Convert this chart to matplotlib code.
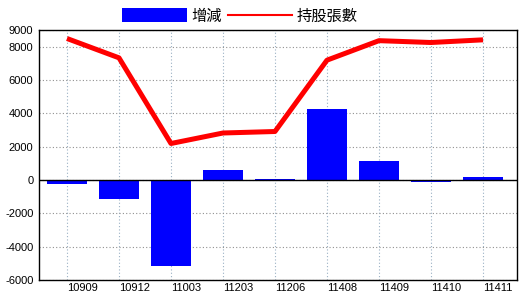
import matplotlib
matplotlib.use('Agg')
import matplotlib.pyplot as plt
from matplotlib.patches import Patch
from matplotlib.lines import Line2D

plt.rcParams['font.family'] = ['Liberation Sans', 'Noto Sans CJK TC']

months = ['10909', '10912', '11003', '11203', '11206', '11408', '11409', '11410', '11411']
change = [-240, -1160, -5140, 630, 90, 4280, 1170, -110, 160]
holdings = [8490, 7330, 2190, 2820, 2910, 7190, 8360, 8250, 8410]
yticks = [-6000, -4000, -2000, 0, 2000, 4000, 6000, 8000, 9000]

fig = plt.figure(figsize=(5.2, 3.0), dpi=100)
ax = fig.add_axes([39/520, 20/300, 478/520, 250/300])

x = list(range(len(months)))
ax.bar(x, change, width=0.77, color='#0000ff', zorder=2)
ax.plot(x, holdings, color='#ff0000', linewidth=3.6, zorder=3, solid_capstyle='butt')
ax.axhline(0, color='black', linewidth=1, zorder=2.5)

ax.set_xlim(-0.538, 8.654)
ax.set_ylim(-6000, 9000)
ax.set_yticks(yticks)
ax.set_yticklabels([str(v) for v in yticks])
ax.set_xticks(x)
ax.set_xticklabels(months, ha='left')

ax.tick_params(axis='both', length=0, labelsize=8)
ax.tick_params(axis='y', pad=4)
ax.tick_params(axis='x', pad=2)

ax.grid(axis='y', linestyle=(0, (1, 2)), color='#909090', linewidth=0.8, zorder=0)
ax.grid(axis='x', linestyle=(0, (1, 2)), color='#9ab0c4', linewidth=0.8, zorder=0)
for s in ax.spines.values():
    s.set_color('black')
    s.set_linewidth(1)

handles = [Patch(facecolor='#0000ff', edgecolor='none'),
           Line2D([0], [0], color='#ff0000', linewidth=1.5)]
fig.legend(handles, ['增減', '持股張數'], loc='center', ncol=2,
           bbox_to_anchor=(240/520, 1 - 16/300), frameon=False,
           fontsize=11, handlelength=4.2, handleheight=1.0,
           handletextpad=0.3, columnspacing=0.4, borderpad=0)

fig.savefig('out.png', dpi=100)
